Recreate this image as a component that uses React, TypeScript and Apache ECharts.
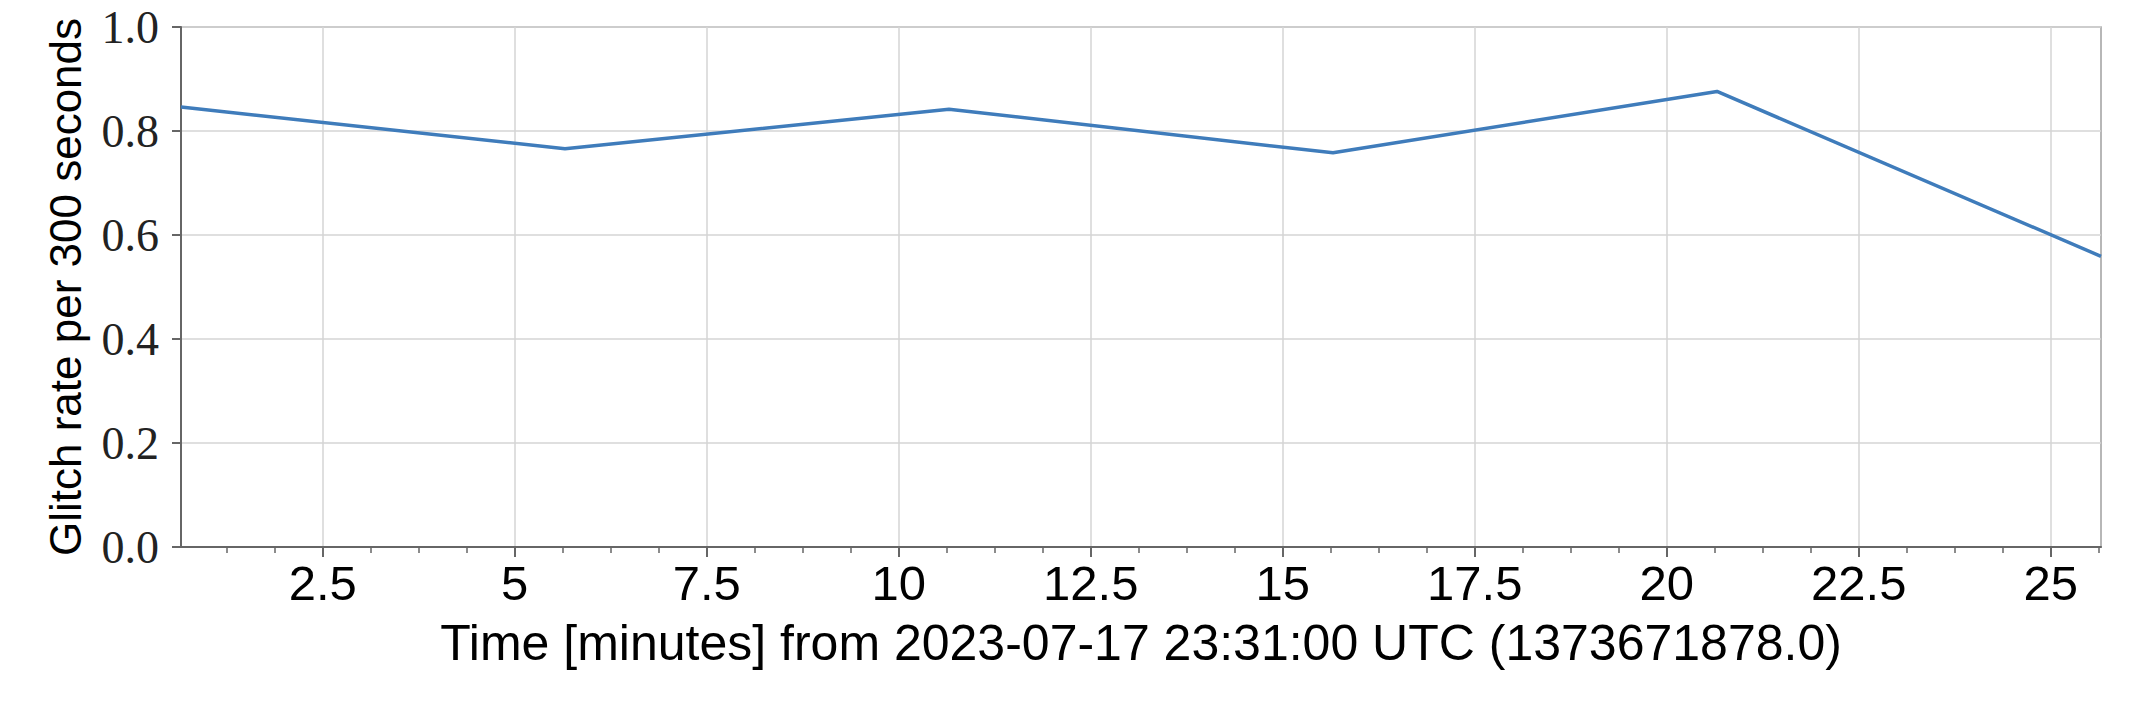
import React, { useEffect, useRef } from "react";
import * as echarts from "echarts";

// Time of each sample, minutes from 2023-07-17 23:31:00 UTC
const timeMinutes = [0.655, 5.655, 10.655, 15.655, 20.655, 25.655];
// Glitch rate per 300 seconds
const glitchRate = [0.846, 0.766, 0.842, 0.758, 0.876, 0.559];

const xMajorTicks = [2.5, 5, 7.5, 10, 12.5, 15, 17.5, 20, 22.5, 25];
const xMinorTicks = [
  1.25, 1.875, 3.125, 3.75, 4.375, 5.625, 6.25, 6.875, 8.125, 8.75, 9.375,
  10.625, 11.25, 11.875, 13.125, 13.75, 14.375, 15.625, 16.25, 16.875,
  18.125, 18.75, 19.375, 20.625, 21.25, 21.875, 23.125, 23.75, 24.375, 25.625,
];
const xMin = 0.655;
const xMax = 25.655;

const xTitle = "Time [minutes] from 2023-07-17 23:31:00 UTC (1373671878.0)";
const yTitle = "Glitch rate per 300 seconds";

export default function App() {
  const ref = useRef<HTMLDivElement>(null);

  useEffect(() => {
    if (!ref.current) return;
    const chart = echarts.init(ref.current, undefined, { renderer: "svg" });
    const axisColor = "#666";
    chart.setOption({
      animation: false,
      backgroundColor: "#fff",
      grid: {
        left: 181,
        top: 27,
        right: 43,
        bottom: 155,
        show: true,
        borderColor: "#a0a0a0",
        borderWidth: 1.5,
        backgroundColor: "transparent",
      },
      xAxis: [
        {
          type: "value",
          min: xMin,
          max: xMax,
          name: xTitle,
          nameLocation: "middle",
          nameGap: 71,
          nameTextStyle: {
            fontFamily: "Liberation Sans",
            fontSize: 50,
            color: "#000",
            verticalAlign: "top",
          },
          axisLine: { show: true, onZero: false, lineStyle: { color: axisColor, width: 2 } },
          axisTick: {
            show: true,
            customValues: xMajorTicks,
            length: 10,
            lineStyle: { color: axisColor, width: 2 },
          },
          axisLabel: {
            customValues: xMajorTicks,
            fontFamily: "Liberation Sans",
            fontSize: 49,
            color: "#000",
            margin: 11,
          },
          splitLine: { show: true, lineStyle: { color: "#d4d4d4", width: 1.5 } },
        },
        {
          type: "value",
          min: xMin,
          max: xMax,
          position: "bottom",
          axisLine: { show: false, onZero: false },
          axisTick: {
            show: true,
            customValues: xMinorTicks,
            length: 6,
            lineStyle: { color: axisColor, width: 1.5 },
          },
          axisLabel: { show: false },
          splitLine: { show: false },
        },
      ],
      yAxis: {
        type: "value",
        min: 0,
        max: 1,
        interval: 0.2,
        name: yTitle,
        nameLocation: "middle",
        nameGap: 116,
        nameTextStyle: {
          fontFamily: "Liberation Sans",
          fontSize: 44,
          color: "#000",
          verticalAlign: "middle",
        },
        axisLine: { show: true, lineStyle: { color: axisColor, width: 2 } },
        axisTick: { show: true, length: 9, lineStyle: { color: axisColor, width: 2 } },
        axisLabel: {
          fontFamily: "Liberation Serif",
          fontSize: 46,
          color: "#222",
          margin: 22,
          formatter: (v: number) => v.toFixed(1),
        },
        splitLine: { show: true, lineStyle: { color: "#d4d4d4", width: 1.5 } },
      },
      series: [
        {
          type: "line",
          xAxisIndex: 0,
          data: timeMinutes.map((t, i) => [t, glitchRate[i]]),
          showSymbol: false,
          symbol: "none",
          lineStyle: { color: "#3f7cbb", width: 3.5 },
          clip: true,
        },
      ],
    });
    return () => chart.dispose();
  }, []);

  return (
    <div
      ref={ref}
      style={{ position: "fixed", left: 0, top: 0, width: 2144, height: 702 }}
    />
  );
}
